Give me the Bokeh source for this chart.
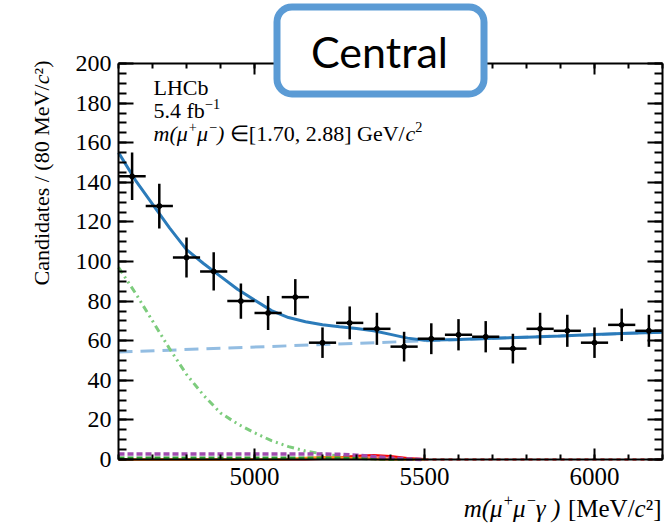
from math import pi
from bokeh.plotting import figure
from bokeh.models import Range1d, LinearAxis, SingleIntervalTicker, Label, BoxAnnotation
from bokeh.embed import file_html
from bokeh.resources import INLINE

# ---------------- data ----------------
bin_centers = [4640, 4720, 4800, 4880, 4960, 5040, 5120, 5200, 5280, 5360,
               5440, 5520, 5600, 5680, 5760, 5840, 5920, 6000, 6080, 6160]
counts = [143, 128, 102, 95, 80, 74, 82, 59, 69, 66,
          57, 61, 63, 62, 56, 66, 65, 59, 68, 65]
count_errors = [12.0, 11.3, 10.1, 9.7, 8.9, 8.6, 9.1, 7.7, 8.3, 8.1,
                7.5, 7.8, 7.9, 7.9, 7.5, 8.1, 8.1, 7.7, 8.2, 8.1]
bin_half_width = 40

# total fit
fit_m = [4600, 4650, 4700, 4750, 4800, 4850, 4900, 4950, 5000, 5050,
         5100, 5150, 5200, 5250, 5300, 5350, 5400, 5450, 5500,
         5600, 5700, 5800, 5900, 6000, 6100, 6200]
fit_total = [155, 141, 129, 117, 106, 99, 92.5, 86, 80.5, 75.2,
             71.7, 69.6, 68.1, 67.1, 66.2, 65, 63.2, 61.3, 60.2,
             60.6, 61.2, 61.8, 62.4, 63.1, 63.7, 64.3]

# combinatorial background (straight line)
comb_m = [4600, 6200]
comb_y = [54.3, 64.3]

# low-mass components
comp_m = [4600, 4650, 4700, 4750, 4800, 4850, 4900, 4950, 5000, 5050,
          5100, 5150, 5200, 5250, 5300, 5350, 5400, 5450, 5500]
partreco_y = [97, 84, 70, 56, 43, 32.5, 23.5, 18, 13.5, 9.5,
              6.5, 4.3, 2.8, 1.7, 1.0, 0.5, 0.2, 0.05, 0]
purple_y = [2.8, 2.8, 2.8, 2.8, 2.8, 2.8, 2.8, 2.8, 2.8, 2.8,
            2.8, 2.8, 2.8, 2.6, 2.2, 1.5, 0.8, 0.3, 0]
darkgreen_y = [0.8, 0.8, 0.8, 0.8, 0.8, 0.8, 0.8, 0.8, 0.8, 0.8,
               0.8, 0.8, 0.8, 0.75, 0.6, 0.35, 0.15, 0.05, 0]
orange_y = [0, 0, 0, 0, 0, 0, 0, 0, 0, 0,
            0.3, 0.8, 1.1, 1.0, 0.6, 0.2, 0, 0, 0]
signal_y = [0, 0, 0, 0, 0, 0, 0, 0, 0, 0,
            0, 0, 0.3, 1.0, 1.9, 2.3, 1.8, 0.8, 0.2]
zero_m = [5500, 6200]
zero_y = [0, 0]

x_min, x_max = 4600, 6200
y_min, y_max = 0, 200
x_ticks_interval = 500
y_ticks_interval = 20

# ---------------- geometry: the frame fills the canvas, axes are placed at fixed spots ----
W, H = 664, 527
BOX_L, BOX_R, BOX_T, BOX_B = 118, 662, 63, 459     # pixel box of the axes
xpp = (x_max - x_min) / (BOX_R - BOX_L)
ypp = (y_max - y_min) / (BOX_B - BOX_T)
xr = Range1d(x_min - BOX_L * xpp, x_max + (W - BOX_R) * xpp)
yr_ = Range1d(y_min - (H - BOX_B) * ypp, y_max + BOX_T * ypp)

p = figure(width=W, height=H, x_range=xr, y_range=yr_,
           output_backend="svg", toolbar_location=None,
           min_border_left=0, min_border_right=0, min_border_top=0, min_border_bottom=0)
p.grid.visible = False
p.outline_line_color = None
p.background_fill_color = "white"
p.border_fill_color = "white"

SERIF = "Liberation Serif"


def style_axis(ax, major, minor, show_labels=True, standoff=8, size="25px"):
    ax.axis_line_width = 2
    ax.axis_line_color = "black"
    ax.major_tick_in = major
    ax.major_tick_out = 0
    ax.minor_tick_in = minor
    ax.minor_tick_out = 0
    ax.major_tick_line_width = 2
    ax.minor_tick_line_width = 2
    ax.major_tick_line_color = "black"
    ax.minor_tick_line_color = "black"
    ax.major_label_text_font = SERIF
    ax.major_label_text_font_size = size
    ax.major_label_standoff = standoff
    ax.major_label_text_color = "black" if show_labels else None


xb = p.xaxis[0]
xb.ticker = SingleIntervalTicker(interval=x_ticks_interval, num_minor_ticks=5)
xb.fixed_location = y_min
xb.bounds = (x_min, x_max)
style_axis(xb, 11, 5, True, 8)

yl = p.yaxis[0]
yl.ticker = SingleIntervalTicker(interval=y_ticks_interval, num_minor_ticks=4)
yl.fixed_location = x_min
yl.bounds = (y_min, y_max)
style_axis(yl, 15, 8, True, 7, "24px")

xt = LinearAxis(ticker=SingleIntervalTicker(interval=x_ticks_interval, num_minor_ticks=5),
                fixed_location=y_max, bounds=(x_min, x_max))
style_axis(xt, 11, 5, False)
p.add_layout(xt, "above")

yrt = LinearAxis(ticker=SingleIntervalTicker(interval=y_ticks_interval, num_minor_ticks=4),
                 fixed_location=x_max, bounds=(y_min, y_max))
style_axis(yrt, 15, 8, False)
p.add_layout(yrt, "right")

# ---------------- components ----------------
p.line(comb_m, comb_y, line_color="#93bde2", line_width=3, line_dash="14 8")
p.line(comp_m, partreco_y, line_color="#7dcc7d", line_width=3, line_dash="7 4 2 4 2 4")
p.varea(x=comp_m, y1=[0] * len(comp_m), y2=signal_y, fill_color="#ff2020", fill_alpha=0.55)
p.line(comp_m, signal_y, line_color="#ff0000", line_width=2)
p.line(zero_m, zero_y, line_color="#ff0000", line_width=2, line_dash="4 4")
p.line(comp_m, orange_y, line_color="#ff8c1a", line_width=2.5)
p.line(comp_m, darkgreen_y, line_color="#2e9a2e", line_width=3, line_dash="6 3")
p.line(comp_m, purple_y, line_color="#a04caf", line_width=3.5, line_dash="6 3")

# total fit
p.line(fit_m, fit_total, line_color="#2b7bba", line_width=3)

# data points with error bars
x_lo = [c - bin_half_width for c in bin_centers]
x_hi = [c + bin_half_width for c in bin_centers]
y_lo = [n - e for n, e in zip(counts, count_errors)]
y_hi = [n + e for n, e in zip(counts, count_errors)]
p.segment(x0=x_lo, y0=counts, x1=x_hi, y1=counts, line_color="black", line_width=2.5)
p.segment(x0=bin_centers, y0=y_lo, x1=bin_centers, y1=y_hi, line_color="black", line_width=2.5)
p.scatter(bin_centers, counts, size=5, color="black")


# ---------------- text ----------------
def sy(y_top):
    return H - y_top


def add_label(text, x, y, size, italic=False, align="left", baseline="middle",
              angle=0.0, font=SERIF):
    p.add_layout(Label(x=x, y=sy(y), x_units="screen", y_units="screen", text=text,
                       text_font=font, text_font_size=size,
                       text_font_style="italic" if italic else "normal",
                       text_align=align, text_baseline=baseline, angle=angle,
                       text_color="black"))


# approximate advance widths (em) of the Times-metric serif font, used to chain text runs
ROMAN_W = {' ': 0.25, '(': 0.333, ')': 0.333, '[': 0.333, ']': 0.333, 'M': 0.889,
           'e': 0.444, 'V': 0.722, '/': 0.278, '.': 0.25, ',': 0.25, 'G': 0.722,
           'f': 0.333, 'b': 0.5, '+': 0.564, '\u2212': 0.564, '\u2208': 0.9,
           '\u00b2': 0.3}
ITALIC_W = {' ': 0.25, '(': 0.333, ')': 0.333, 'm': 0.722, 'c': 0.444,
            '\u03bc': 0.55, '\u03b3': 0.45}
SUP_SCALE, SUP_RAISE = 0.65, 0.40
MID = 0.28   # distance (em) from the alphabetic baseline up to the text middle


def run_width(text, size, italic):
    table = ITALIC_W if italic else ROMAN_W
    return sum(table.get(ch, 0.5) for ch in text) * size


def add_runs(runs, x, baseline_y, size, align="left"):
    """runs: list of (text, italic, superscript); placed one after another on a baseline"""
    sizes = [size * SUP_SCALE if sup else size for _, _, sup in runs]
    widths = [run_width(t, s, it) for (t, it, _), s in zip(runs, sizes)]
    cx = x - sum(widths) if align == "right" else x
    for (t, it, sup), s, w in zip(runs, sizes, widths):
        lead = len(t) - len(t.lstrip(" "))
        off = run_width(" " * lead, s, it)
        yb = baseline_y - (SUP_RAISE * size if sup else 0)
        add_label(t.strip(" "), cx + off, yb - MID * s, f"{s:.1f}px", italic=it)
        cx += w


# x-axis title (right aligned at frame edge)
add_runs([("m(\u03bc", True, False), ("+", False, True), ("\u03bc", True, False),
          ("\u2212", False, True), ("\u03b3 )", True, False), (" [MeV/", False, False),
          ("c", True, False), ("\u00b2]", False, False)],
         661, 515, 25, align="right")

# y-axis title (rotated, aligned to top)
add_label("\u00b2)", 41, 60, "22px", align="right", angle=pi / 2)
add_label("c", 41, 74, "22px", italic=True, align="right", angle=pi / 2)
add_label("Candidates / (80 MeV/", 41, 84, "22px", align="right", angle=pi / 2)

# experiment info
add_runs([("LHCb", False, False)], 153, 93, 22)
add_runs([("5.4 fb", False, False), ("\u22121", False, True)], 153, 116, 22)
add_runs([("m(\u03bc", True, False), ("+", False, True), ("\u03bc", True, False),
          ("\u2212", False, True), (")", True, False), (" \u2208[1.70, 2.88] GeV/", False, False),
          ("c", True, False), ("2", False, True)], 153, 139, 22)

# "Central" box
p.add_layout(BoxAnnotation(left=276.5, right=483.5, top=sy(6.5), bottom=sy(93.5),
                           left_units="screen", right_units="screen",
                           top_units="screen", bottom_units="screen",
                           fill_color="white", fill_alpha=1.0,
                           line_color="#5b9bd5", line_width=7, line_alpha=1.0,
                           border_radius=15))
add_label("Central", 379, 51, "43px", align="center", font="Lato")

open("out.html", "w").write(file_html(p, INLINE))
